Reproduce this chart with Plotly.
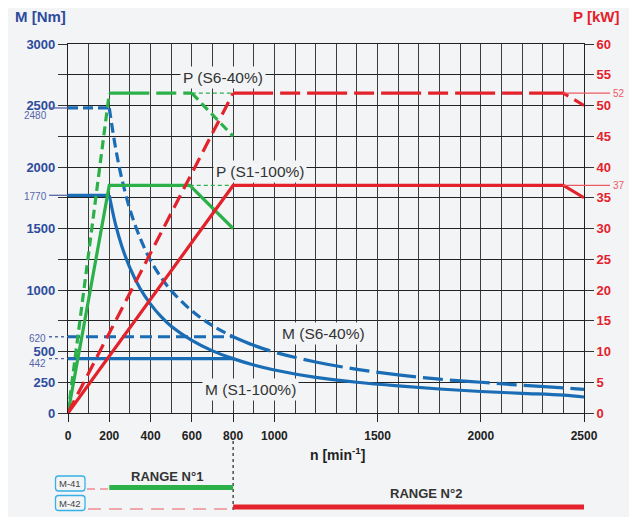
import plotly.graph_objects as go

# ---------------- data ----------------
# speed axis [min^-1]
x_ticks = [0, 200, 400, 600, 800, 1000, 1500, 2000, 2500]
x_grid = list(range(0, 2600, 100))
y_left_labels = [0, 250, 500, 1000, 1500, 2000, 2500, 3000]
y_left_minor = list(range(0, 3250, 250))
y_right_ticks = list(range(0, 65, 5))

# Torque M [Nm]
n_m41_s6_flat = [0, 200];            m_m41_s6_flat = [2480, 2480]
n_m41_s1_flat = [0, 200];            m_m41_s1_flat = [1770, 1770]
n_m42_s6_flat = [0, 800];            m_m42_s6_flat = [620, 620]
n_m42_s1_flat = [0, 800];            m_m42_s1_flat = [442, 442]

n_s6_low = [200, 230, 260, 300, 350, 400, 450, 500, 600, 700, 800]
m_s6_low = [2480, 2160, 1910, 1655, 1420, 1240, 1105, 995, 830, 710, 620]
n_s6_high = [800, 900, 1000, 1200, 1400, 1600, 1800, 2000, 2200, 2400, 2500]
m_s6_high = [620, 550, 495, 415, 355, 310, 275, 250, 225, 205, 192]

n_s1 = [200, 230, 260, 300, 350, 400, 450, 500, 600, 700, 800, 900, 1000,
        1200, 1400, 1600, 1800, 2000, 2200, 2400, 2500]
m_s1 = [1770, 1535, 1360, 1180, 1010, 885, 785, 705, 590, 505, 442, 390, 350,
        290, 250, 220, 195, 175, 160, 145, 130]

# Power P [kW]
n_g_s6_ramp = [0, 200];      p_g_s6_ramp = [0, 52]
n_g_s6_flat = [200, 600];    p_g_s6_flat = [52, 52]
n_g_s6_drop = [600, 800];    p_g_s6_drop = [52, 45]
n_g_s6_ref = [600, 800];     p_g_s6_ref = [52, 52]
n_g_s1 = [0, 200, 590, 800]; p_g_s1 = [0, 37, 37, 30]
n_g_s1_ref = [590, 800];     p_g_s1_ref = [37, 37]

n_r_s6_ramp = [0, 800];           p_r_s6_ramp = [0, 52]
n_r_s6_flat = [800, 2400, 2500];  p_r_s6_flat = [52, 52, 50]
n_r_s1 = [0, 800, 2400, 2500];    p_r_s1 = [0, 37, 37, 35]

range1 = [200, 800]
range2 = [800, 2500]
lead1 = [92, 200]
lead2 = [97, 800]

# ---------------- styling ----------------
OFF = 8                      # default page margin of the html body
W, H = 637 - OFF, 517 - OFF
PL, PR, PT, PB = 68, 584, 44, 413   # plot box in window pixels
BG = "#f2f4f6"
BLUE = "#1a6db5"
RED = "#e4222b"
GREEN = "#2bb04a"
LBLUE = "#5666aa"
LRED = "#ee5a63"
AXBLUE = "#2e4b9c"
FONT = "Liberation Sans, Arial, sans-serif"
LONGSHORT = "40px,7px,20px,7px"
LW = 3.2


def px(x):
    return (x - PL) / (PR - PL)


def py(y):
    return (PB - y) / (PB - PT)


fig = go.Figure()


def add(xs, ys, color, dash="solid", width=LW, y2=False, spline=False):
    fig.add_trace(go.Scatter(
        x=xs, y=ys, mode="lines", yaxis="y2" if y2 else "y",
        line=dict(color=color, width=width, dash=dash,
                  shape="spline" if spline else "linear"),
        hoverinfo="skip", showlegend=False))


# green (M-41 power)
add(n_g_s6_ref, p_g_s6_ref, GREEN, "4px,3px", 1.2, True)
add(n_g_s1_ref, p_g_s1_ref, GREEN, "4px,3px", 1.2, True)
add(n_g_s6_ramp, p_g_s6_ramp, GREEN, "9px,5px", LW, True)
add(n_g_s6_flat, p_g_s6_flat, GREEN, LONGSHORT, LW, True)
add(n_g_s6_drop, p_g_s6_drop, GREEN, "9px,5px", LW, True)
add(n_g_s1, p_g_s1, GREEN, "solid", LW, True)
# red (M-42 power)
add(n_r_s6_ramp, p_r_s6_ramp, RED, "14px,7px", LW, True)
add(n_r_s6_flat, p_r_s6_flat, RED, LONGSHORT, LW, True)
add(n_r_s1, p_r_s1, RED, "solid", LW, True)
# blue (torque)
add(n_m41_s6_flat, m_m41_s6_flat, BLUE, "10px,5px")
add(n_m42_s6_flat, m_m42_s6_flat, BLUE, "12px,6px")
add(n_s6_low, m_s6_low, BLUE, "10px,5px", spline=True)
add(n_s6_high, m_s6_high, BLUE, LONGSHORT, spline=True)
add(n_m41_s1_flat, m_m41_s1_flat, BLUE)
add(n_m42_s1_flat, m_m42_s1_flat, BLUE)
add(n_s1, m_s1, BLUE, spline=True)

shapes = []
annotations = []

# left value markers
for val, dash, tx, ty in [(2480, "solid", 35.5, 115.5), (1770, "solid", 35.5, 196),
                          (620, "3px,3px", 37, 338), (442, "3px,3px", 37, 363.5)]:
    shapes.append(dict(type="line", xref="paper", yref="y", x0=px(49), x1=px(68),
                       y0=val, y1=val, line=dict(color=LBLUE, width=1.3, dash=dash)))
    annotations.append(dict(text=str(val), xref="paper", yref="paper", x=px(tx), y=py(ty),
                            showarrow=False, xanchor="center", yanchor="middle",
                            font=dict(family=FONT, size=10, color=LBLUE)))

# right value markers
for val in [52, 37]:
    shapes.append(dict(type="line", xref="paper", yref="y2", x0=px(563), x1=px(610),
                       y0=val, y1=val, line=dict(color=LRED, width=1.3)))
    annotations.append(dict(text=str(val), xref="paper", yref="y2", x=px(619), y=val,
                            showarrow=False, xanchor="center", yanchor="middle",
                            font=dict(family=FONT, size=10, color=LRED)))

# curve labels
for txt, cx, cy in [("P (S6-40%)", 222.5, 77), ("P (S1-100%)", 260, 171),
                    ("M (S6-40%)", 323, 333), ("M (S1-100%)", 250, 389)]:
    annotations.append(dict(text=txt, xref="paper", yref="paper", x=px(cx), y=py(cy),
                            showarrow=False, xanchor="center", yanchor="middle",
                            bgcolor=BG, borderpad=2,
                            font=dict(family=FONT, size=15.5, color="#333333")))

# axis titles
annotations.append(dict(text="<b>M [Nm]</b>", xref="paper", yref="paper", x=px(40), y=py(16.5),
                        showarrow=False, xanchor="center", yanchor="middle",
                        font=dict(family=FONT, size=15, color=AXBLUE)))
annotations.append(dict(text="<b>P [kW]</b>", xref="paper", yref="paper", x=px(596), y=py(16.5),
                        showarrow=False, xanchor="center", yanchor="middle",
                        font=dict(family=FONT, size=15, color=RED)))
annotations.append(dict(text="<b>n [min<sup>-1</sup>]</b>", xref="paper", yref="paper",
                        x=px(337), y=py(454), showarrow=False, xanchor="center",
                        yanchor="middle", font=dict(family=FONT, size=14, color="#222222")))

# bottom range section
shapes.append(dict(type="line", xref="x", yref="paper", x0=800, x1=800,
                   y0=py(441), y1=py(511), line=dict(color="#222222", width=1.2, dash="3px,3px")))
shapes.append(dict(type="line", xref="x", yref="paper", x0=lead1[0], x1=lead1[1],
                   y0=py(489), y1=py(489), line=dict(color=LRED, width=1.2, dash="8px,5px")))
shapes.append(dict(type="line", xref="x", yref="paper", x0=lead2[0], x1=lead2[1],
                   y0=py(509), y1=py(509), line=dict(color=LRED, width=1.2, dash="13px,8px")))
shapes.append(dict(type="line", xref="x", yref="paper", x0=range1[0], x1=range1[1],
                   y0=py(487.5), y1=py(487.5), line=dict(color=GREEN, width=5)))
shapes.append(dict(type="line", xref="x", yref="paper", x0=range2[0], x1=range2[1],
                   y0=py(507), y1=py(507), line=dict(color=RED, width=5)))


def rrect(x0, y0, x1, y1, r):
    pts = lambda a, b: f"{px(a):.5f},{py(b):.5f}"
    return (f"M {pts(x0 + r, y0)} L {pts(x1 - r, y0)} Q {pts(x1, y0)} {pts(x1, y0 + r)} "
            f"L {pts(x1, y1 - r)} Q {pts(x1, y1)} {pts(x1 - r, y1)} "
            f"L {pts(x0 + r, y1)} Q {pts(x0, y1)} {pts(x0, y1 - r)} "
            f"L {pts(x0, y0 + r)} Q {pts(x0, y0)} {pts(x0 + r, y0)} Z")


for lab, y0, y1 in [("M-41", 476, 491), ("M-42", 495.5, 510.5)]:
    shapes.append(dict(type="path", xref="paper", yref="paper", path=rrect(55.5, y0, 85, y1, 3),
                       line=dict(color="#36b0e6", width=1.3), fillcolor=BG))
    annotations.append(dict(text=lab, xref="paper", yref="paper", x=px(70.3), y=py((y0 + y1) / 2),
                            showarrow=False, xanchor="center", yanchor="middle",
                            font=dict(family=FONT, size=9.5, color="#444444")))

annotations.append(dict(text="<b>RANGE N°1</b>", xref="paper", yref="paper", x=px(166.5), y=py(476),
                        showarrow=False, xanchor="center", yanchor="middle",
                        font=dict(family=FONT, size=13, color="#333333")))
annotations.append(dict(text="<b>RANGE N°2</b>", xref="paper", yref="paper", x=px(426), y=py(493.5),
                        showarrow=False, xanchor="center", yanchor="middle",
                        font=dict(family=FONT, size=13, color="#333333")))

fig.update_layout(
    width=W, height=H, autosize=False,
    margin=dict(l=PL - OFF, r=(637 - PR), t=PT - OFF, b=(517 - PB), pad=0),
    paper_bgcolor=BG, plot_bgcolor=BG,
    showlegend=False,
    shapes=shapes, annotations=annotations,
    xaxis=dict(range=[0, 2500], tickvals=x_ticks, ticktext=[str(v) for v in x_ticks],
               ticks="outside", ticklen=8, tickcolor="#222222", tickwidth=1.2,
               ticklabelstandoff=3,
               showgrid=True, gridcolor="#3c3c3c", gridwidth=1,
               minor=dict(tickvals=x_grid, showgrid=True, gridcolor="#3c3c3c", gridwidth=1, ticks=""),
               showline=True, linecolor="#222222", linewidth=1.2, mirror=True,
               zeroline=False,
               tickfont=dict(family=FONT, size=12, color="#222222", weight="bold")),
    yaxis=dict(range=[0, 3000], tickvals=y_left_labels, ticktext=[str(v) for v in y_left_labels],
               ticks="outside", ticklen=9, tickcolor="#333333", tickwidth=1.2,
               showgrid=True, gridcolor="#222222", gridwidth=1,
               minor=dict(tickvals=y_left_minor, ticks="outside", ticklen=9, tickcolor="#333333",
                          tickwidth=1.2, showgrid=True, gridcolor="#222222", gridwidth=1),
               showline=True, linecolor="#222222", linewidth=1.2, mirror=True,
               zeroline=False,
               tickfont=dict(family=FONT, size=13, color=AXBLUE, weight="bold")),
    yaxis2=dict(range=[0, 60], tickvals=y_right_ticks, overlaying="y", side="right",
                ticks="outside", ticklen=9, tickcolor="#333333", tickwidth=1.2,
                showgrid=False, zeroline=False, showline=False,
                tickfont=dict(family=FONT, size=13, color=RED, weight="bold")),
)

fig.write_html("out.html")
